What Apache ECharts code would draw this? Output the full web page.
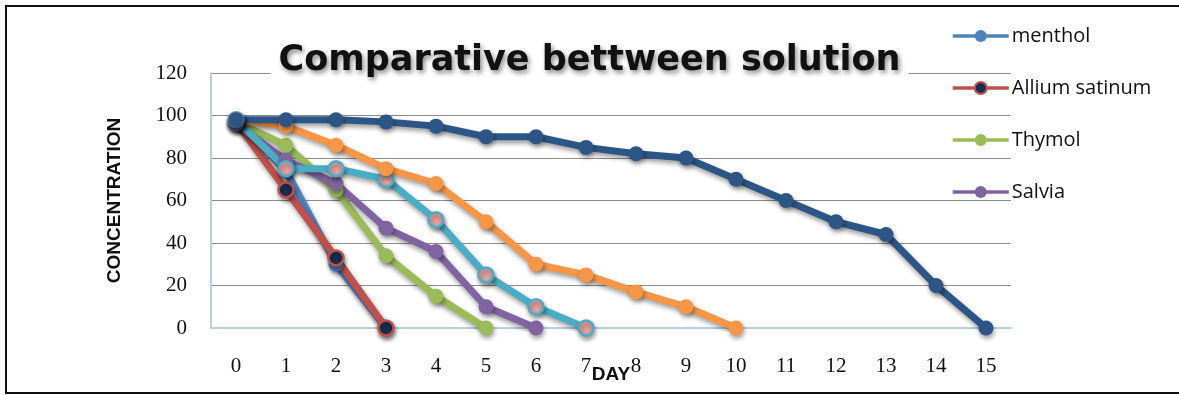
<!DOCTYPE html>
<html>
<head>
<meta charset="utf-8">
<script src="https://cdn.jsdelivr.net/npm/echarts@6/dist/echarts.min.js"></script>
<style>
  html,body{margin:0;padding:0;background:#fff;}
  #main{position:absolute;left:0;top:0;width:1179px;height:395px;}
  #frame{position:absolute;left:5px;top:5px;width:1200px;height:389px;border:2px solid #111;box-sizing:border-box;pointer-events:none;}
</style>
</head>
<body>
<div id="main"></div>
<div id="frame"></div>
<script>
var days = ['0','1','2','3','4','5','6','7','8','9','10','11','12','13','14','15'];
var yTicks = [0, 20, 40, 60, 80, 100, 120];

var menthol = [98, 74, 30, 0];
var allium  = [97, 65, 33, 0];
var thymol  = [97, 86, 65, 34, 15, 0];
var salvia  = [96, 79, 68, 47, 36, 10, 0];
var series5 = [98, 75, 75, 70, 51, 25, 10, 0];
var series6 = [98, 95, 86, 75, 68, 50, 30, 25, 17, 10, 0];
var series7 = [98, 98, 98, 97, 95, 90, 90, 85, 82, 80, 70, 60, 50, 44, 20, 0];

function makeLine(name, data, lineColor, fill, border){
    return {
        name: name,
        type: 'line',
        data: data,
        symbol: 'circle',
        symbolSize: 15,
        showAllSymbol: true,
        lineStyle: {
            width: 7,
            color: lineColor,
            shadowColor: 'rgba(0,0,0,0.4)',
            shadowBlur: 5,
            shadowOffsetX: 1,
            shadowOffsetY: 3
        },
        itemStyle: {
            color: fill,
            borderColor: border,
            borderWidth: border === fill ? 0 : 2.5,
            shadowColor: 'rgba(0,0,0,0.4)',
            shadowBlur: 5,
            shadowOffsetX: 1,
            shadowOffsetY: 3
        },
        emphasis: {disabled: true}
    };
}

var chart = echarts.init(document.getElementById('main'));
var option = {
    animation: false,
    title: {
        text: 'Comparative bettween solution',
        left: 'center',
        top: 41,
        padding: [2, 8],
        backgroundColor: '#fff',
        textStyle: {
            fontFamily: 'DejaVu Sans',
            fontWeight: 'bold',
            fontSize: 35,
            color: '#111',
            textShadowColor: 'rgba(0,0,0,0.45)',
            textShadowBlur: 5,
            textShadowOffsetX: 2,
            textShadowOffsetY: 3
        }
    },
    legend: {
        data: ['menthol', 'Allium satinum', 'Thymol', 'Salvia'],
        orient: 'vertical',
        left: 946,
        top: 21,
        itemWidth: 56,
        itemHeight: 15,
        itemGap: 32,
        lineStyle: {width: 3.5, shadowBlur: 0, shadowOffsetX: 0, shadowOffsetY: 0},
        itemStyle: {shadowBlur: 0, shadowOffsetX: 0, shadowOffsetY: 0},
        textStyle: {fontFamily: 'Open Sans', fontSize: 20, color: '#111', padding: [0, 0, 0, -2]}
    },
    grid: {left: 211, right: 168, top: 73, bottom: 67, outerBoundsMode: 'none'},
    xAxis: {
        type: 'category',
        data: days,
        boundaryGap: true,
        name: 'DAY',
        nameLocation: 'middle',
        nameGap: 37,
        nameMoveOverlap: false,
        nameTextStyle: {fontFamily: 'Liberation Sans', fontWeight: 'bold', fontSize: 19, color: '#111', verticalAlign: 'top'},
        axisLine: {lineStyle: {color: '#B9CDE5', width: 2}},
        axisTick: {show: false},
        axisLabel: {margin: 28, fontFamily: 'Liberation Serif', fontSize: 21, color: '#111'}
    },
    yAxis: {
        type: 'value',
        min: yTicks[0],
        max: yTicks[yTicks.length - 1],
        interval: 20,
        name: 'CONCENTRATION',
        nameLocation: 'middle',
        nameGap: 87,
        nameRotate: 90,
        nameMoveOverlap: false,
        nameTextStyle: {fontFamily: 'Liberation Sans', fontWeight: 'bold', fontSize: 19, color: '#111'},
        axisLine: {show: true, lineStyle: {color: '#B9CDE5', width: 2}},
        axisTick: {show: false},
        axisLabel: {margin: 24, fontFamily: 'Liberation Serif', fontSize: 21, color: '#111'},
        splitLine: {lineStyle: {color: '#8C8C8C', width: 1}}
    },
    series: [
        makeLine('menthol', menthol, '#4F81BD', '#4F81BD', '#4F81BD'),
        makeLine('Allium satinum', allium, '#C0504D', '#17304F', '#C0504D'),
        makeLine('Thymol', thymol, '#9BBB59', '#9BBB59', '#9BBB59'),
        makeLine('Salvia', salvia, '#8064A2', '#8064A2', '#8064A2'),
        makeLine('Series5', series5, '#4BACC6', '#E6A3A2', '#4BACC6'),
        makeLine('Series6', series6, '#F79646', '#F79646', '#F79646'),
        makeLine('Series7', series7, '#2D5586', '#2D5586', '#2D5586')
    ]
};
chart.setOption(option);
</script>
</body>
</html>
